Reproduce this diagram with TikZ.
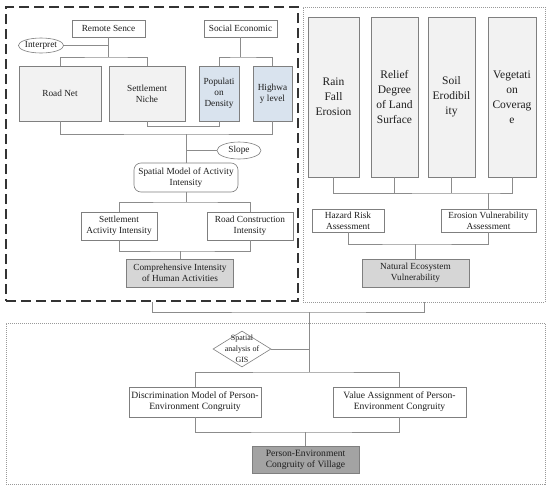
\documentclass[tikz,border=0pt]{standalone}
\usepackage{fontspec}
\setmainfont{Liberation Serif}
\usetikzlibrary{shapes.geometric}
\definecolor{edgegray}{HTML}{7F7F7F}
\definecolor{linegray}{HTML}{8C8C8C}
\definecolor{lightfill}{HTML}{F2F2F2}
\definecolor{bluefill}{HTML}{D9E3EE}
\definecolor{midfill}{HTML}{D6D6D6}
\definecolor{darkfill}{HTML}{A3A3A3}
\definecolor{inkgray}{HTML}{1E1E1E}

\begin{document}
\begin{tikzpicture}[x=1pt,y=-1pt,font=\fontsize{9.3}{10.8}\selectfont,text=inkgray,
  box/.style={draw=edgegray,fill=white,align=center,inner sep=1pt,line width=0.6pt},
  graybox/.style={box,fill=lightfill},
  bluebox/.style={box,fill=bluefill},
  midbox/.style={box,fill=midfill},
  darkbox/.style={box,fill=darkfill},
  tallbox/.style={graybox,minimum height=160pt,font=\fontsize{11.5}{15}\selectfont},
  oval/.style={draw=edgegray,fill=white,ellipse,inner sep=0pt,line width=0.6pt},
  gisdiamond/.style={draw=edgegray,fill=white,diamond,inner sep=0pt,minimum width=58pt,minimum height=36pt,line width=0.6pt},
  conn/.style={draw=linegray,line width=0.6pt},
  dashgroup/.style={draw=black!80,line width=1.2pt,dash pattern=on 10pt off 5pt,inner sep=0pt},
  dotgroup/.style={draw=gray!80,line width=0.5pt,dash pattern=on 1pt off 1pt,inner sep=0pt}]
\useasboundingbox (0,0) rectangle (550,493);

\node[dashgroup,minimum width=292pt,minimum height=294pt] (lgrp) at (152,154) {};
\node[dotgroup,minimum width=242pt,minimum height=295pt] (rgrp) at (424,154.5) {};
\node[dotgroup,minimum width=539pt,minimum height=161pt] (bgrp) at (275.5,403.5) {};

\node[box,minimum width=73pt,minimum height=17pt] (rs) at (108.5,28.5) {Remote Sence};
\node[box,minimum width=73pt,minimum height=17pt] (se) at (240.5,28.5) {Social Economic};
\node[oval,minimum width=45pt,minimum height=15pt] (interp) at (41,45.5) {Interpret};
\node[graybox,minimum width=82pt,minimum height=55pt] (road) at (60,93.5) {Road Net};
\node[graybox,minimum width=76pt,minimum height=55pt] (niche) at (147,93.5) {Settlement\\Niche};
\node[bluebox,minimum width=40pt,minimum height=55pt] (pop) at (219,93.5) {Populati\\on\\Density};
\node[bluebox,minimum width=39pt,minimum height=55pt] (hwy) at (272.5,93.5) {Highwa\\y level};
\node[oval,minimum width=44pt,minimum height=17pt] (slope) at (239,150.5) {Slope};
\node[box,rounded corners=7pt,minimum width=104pt,minimum height=29pt] (spm) at (186,177.5) {Spatial Model of Activity\\Intensity};
\node[box,minimum width=76pt,minimum height=28pt] (sai) at (119,226) {Settlement\\Activity Intensity};
\node[box,minimum width=86pt,minimum height=28pt] (rci) at (250,226) {Road Construction\\Intensity};
\node[midbox,minimum width=107pt,minimum height=28pt] (cih) at (180,273) {Comprehensive Intensity\\of Human Activities};

\coordinate (rsj) at (108.5,57);
\coordinate (sej) at (240.5,57);
\coordinate (nj) at (186,134);
\coordinate (spj) at (186,202);
\coordinate (cij) at (180,251);
\draw[conn] (rs) -- (rsj);
\draw[conn] (interp) -- (interp -| rsj);
\draw[conn] (road.north) |- (rsj) -| (niche.north);
\draw[conn] (se) -- (sej);
\draw[conn] (pop.north) |- (sej) -| (hwy.north);
\draw[conn] (niche.south) -- ++(0,5) -| (pop.south);
\draw[conn] (road.south) |- (nj) -| (hwy.south);
\draw[conn] (nj) -- (spm.north);
\draw[conn] (slope) -- (slope -| nj);
\draw[conn] (spm.south) -- (spj);
\draw[conn] (sai.north) |- (spj) -| (rci.north);
\draw[conn] (sai.south) |- (cij) -| (rci.south);
\draw[conn] (cij) -- (cih.north);

\node[tallbox,minimum width=51pt] (rfe) at (333.5,97) {Rain\\Fall\\Erosion};
\node[tallbox,minimum width=47pt] (rdl) at (394.5,97) {Relief\\Degree\\of Land\\Surface};
\node[tallbox,minimum width=47pt] (soil) at (451.5,97) {Soil\\Erodibil\\ity};
\node[tallbox,minimum width=48pt] (veg) at (512,97) {Vegetati\\on\\Coverag\\e};
\node[box,minimum width=72pt,minimum height=23pt] (hra) at (348,220.5) {Hazard Risk\\Assessment};
\node[box,minimum width=95pt,minimum height=23pt] (eva) at (488.5,220.5) {Erosion Vulnerability\\Assessment};
\node[midbox,minimum width=107pt,minimum height=28pt] (nev) at (415.5,273) {Natural Ecosystem\\Vulnerability};

\coordinate (rj) at (488.5,193);
\coordinate (hj) at (415.5,244);
\draw[conn] (rfe.south) |- (rj) -| (veg.south);
\draw[conn] (rdl.south) -- (rdl.south |- rj);
\draw[conn] (soil.south) -- (soil.south |- rj);
\draw[conn] (rj) -- (eva.north);
\draw[conn] (hra.south) |- (hj) -| (eva.south);
\draw[conn] (hj) -- (nev.north);

\node[gisdiamond,label={[font=\fontsize{8}{11}\selectfont,align=center]center:{Spatial\\analysis of\\GIS}}] (gis) at (242,349) {};
\node[box,minimum width=132pt,minimum height=30pt,font=\fontsize{9.6}{11.3}\selectfont] (dm) at (195,402) {Discrimination Model of Person-\\Environment Congruity};
\node[box,minimum width=133pt,minimum height=30pt,font=\fontsize{9.6}{11.3}\selectfont] (va) at (399.5,402) {Value Assignment of Person-\\Environment Congruity};
\node[darkbox,minimum width=107pt,minimum height=27pt,font=\fontsize{9.6}{11.3}\selectfont] (pec) at (305.5,460) {Person-Environment\\Congruity of Village};

\coordinate (gj) at (309,312);
\coordinate (dj) at (309,372);
\coordinate (pj) at (305.5,432);
\draw[conn] (lgrp.south) |- (gj) -| (rgrp.south);
\draw[conn] (gj) -- (dj);
\draw[conn] (gis) -- (gis -| dj);
\draw[conn] (dm.north) |- (dj) -| (va.north);
\draw[conn] (dm.south) |- (pj) -| (va.south);
\draw[conn] (pj) -- (pec.north);
\end{tikzpicture}
\end{document}
